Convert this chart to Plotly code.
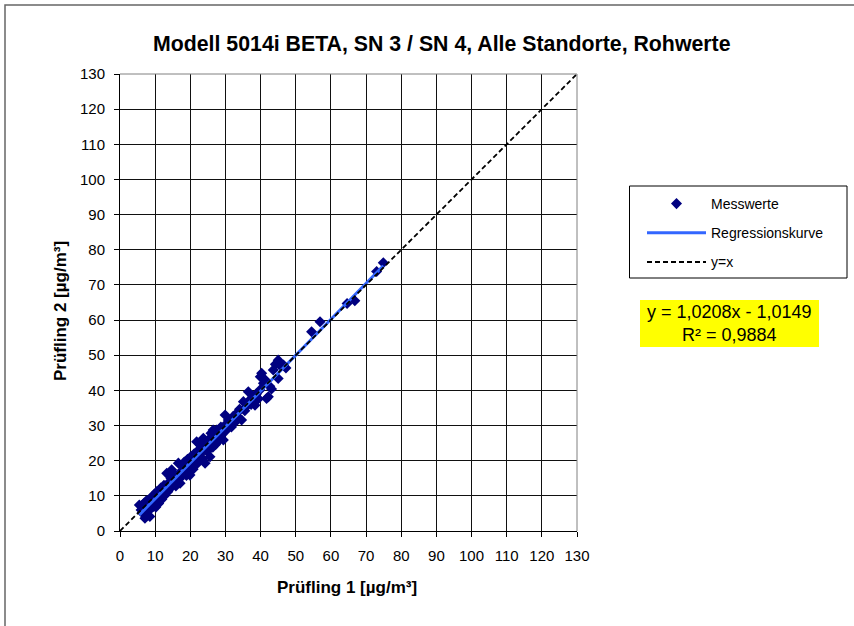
import plotly.graph_objects as go

# ---- data ----
x_vals = [5.5, 6.0, 6.3, 6.8, 7.1, 7.2, 7.5, 7.8, 8.0, 8.3, 8.5, 8.7, 9.0, 9.2, 9.5, 9.8,
          10.0, 10.2, 10.5, 10.8, 11.0, 11.3, 11.6, 11.9, 12.2, 12.5, 12.8, 13.1, 13.3, 13.6,
          13.9, 14.2, 14.5, 14.7, 15.0, 15.3, 15.6, 15.9, 16.2, 16.6, 16.9, 17.1, 17.4, 17.7,
          18.0, 18.3, 18.6, 18.9, 19.2, 19.5, 19.9, 20.2, 20.5, 20.8, 21.1, 21.4, 21.8, 22.0,
          22.3, 22.6, 22.9, 23.2, 23.5, 23.7, 24.0, 24.2, 24.5, 24.8, 25.1, 25.4, 25.6, 25.9,
          26.1, 26.4, 26.5, 26.9, 27.2, 27.5, 27.8, 28.0, 28.4, 28.7, 29.0, 29.4, 29.9, 30.0,
          30.4, 30.8, 31.3, 31.7, 32.2, 32.6, 33.2, 33.6, 34.0, 34.6, 35.1, 35.5, 36.0, 36.5,
          36.8, 37.3, 37.8, 38.4, 38.8, 39.4, 39.8, 39.9, 40.3, 40.8, 41.3, 41.7, 42.2, 42.6,
          43.1, 43.6, 44.2, 45.0, 45.0, 45.6, 46.5, 47.2,
          54.5, 56.9, 64.6, 66.8, 73.0, 74.9]
y_vals = [7.4, 6.0, 5.2, 7.8, 3.6, 6.5, 8.6, 5.5, 7.2, 9.0, 4.1, 6.3, 8.0, 9.8, 7.0, 10.5,
          8.6, 6.8, 11.2, 9.3, 7.8, 10.6, 12.2, 9.0, 11.4, 13.0, 10.2, 12.4, 16.4, 11.2,
          13.8, 12.0, 15.0, 17.4, 13.2, 14.6, 16.0, 12.8, 15.4, 19.3, 14.8, 13.6, 17.0, 18.5,
          16.2, 19.6, 17.4, 15.8, 20.4, 18.2, 15.9, 21.2, 19.0, 17.6, 22.0, 20.2, 25.4, 19.2,
          23.0, 21.4, 24.4, 22.3, 20.5, 26.4, 23.6, 19.3, 25.0, 22.6, 24.5, 26.2, 21.1, 27.8,
          25.9, 23.8, 28.7, 26.6, 24.6, 28.7, 27.0, 25.6, 27.8, 29.6, 27.4, 25.9, 33.0, 30.2,
          28.8, 31.6, 31.1, 29.6, 32.6, 30.8, 33.5, 32.4, 34.6, 31.6, 36.8, 34.2, 35.4, 39.6,
          37.2, 36.0, 38.4, 35.8, 39.0, 37.6, 40.1, 43.9, 44.9, 42.0, 43.0, 37.7, 38.2, 41.2,
          40.4, 45.8, 47.4, 48.6, 43.4, 47.0, 47.2, 46.4,
          56.7, 59.5, 64.7, 65.5, 73.8, 76.3]

reg_slope = 1.0208
reg_intercept = -1.0149
r_squared = "0,9884"

axis_ticks = list(range(0, 131, 10))
identity_range = [0, 130]

title_text = "Modell 5014i BETA, SN 3 / SN 4, Alle Standorte, Rohwerte"
x_title = "Prüfling 1 [µg/m³]"
y_title = "Prüfling 2 [µg/m³]"
eq_text = "y = 1,0208x - 1,0149<br>R² = " + r_squared

# ---- layout geometry (pixels) ----
W, H = 854, 626
L, R, T, B = 120, 277, 74, 95
PW = W - L - R
PH = H - T - B


def px(xp):
    return (xp - L) / PW


def py(yp):
    return (H - B - yp) / PH


FONT = "Arial, Liberation Sans, sans-serif"

reg_x = [min(x_vals), max(x_vals)]
reg_y = [reg_slope * v + reg_intercept for v in reg_x]

fig = go.Figure()
fig.add_trace(go.Scatter(
    x=x_vals, y=y_vals, mode="markers", name="Messwerte",
    marker=dict(symbol="diamond", size=8.5, color="#000080", line=dict(width=0)),
    legendgroup="a"))
fig.add_trace(go.Scatter(
    x=reg_x, y=reg_y, mode="lines", name="Regressionskurve",
    line=dict(color="#3366FF", width=3), legendgroup="b"))
fig.add_trace(go.Scatter(
    x=identity_range, y=identity_range, mode="lines", name="y=x",
    line=dict(color="black", width=1.8, dash="5px,3px"), legendgroup="c"))

axis_common = dict(
    range=[0, 130], tickvals=axis_ticks, ticktext=[str(t) for t in axis_ticks],
    showgrid=True, gridcolor="#111111", gridwidth=1,
    showline=True, linecolor="black", linewidth=1,
    ticks="outside", ticklen=5, tickcolor="black", tickwidth=1,
    zeroline=False, tickfont=dict(family=FONT, size=15, color="black"),
    fixedrange=True,
)

fig.update_layout(
    width=W, height=H,
    margin=dict(l=L, r=R, t=T, b=B, autoexpand=False),
    paper_bgcolor="white", plot_bgcolor="white",
    xaxis=dict(**axis_common, ticklabelstandoff=6),
    yaxis=dict(**axis_common, ticklabelstandoff=6),
    showlegend=True,
    legend=dict(
        x=px(642), y=py(188), xanchor="left", yanchor="top",
        borderwidth=0, bgcolor="rgba(0,0,0,0)",
        font=dict(family=FONT, size=14, color="black"),
        itemwidth=59, tracegroupgap=8, traceorder="grouped",
    ),
    shapes=[
        # plot-area frame (top/right)
        dict(type="path", xref="paper", yref="paper",
             path="M 0,1 L 1,1 L 1,0", line=dict(color="#808080", width=1), layer="above"),
        # outer chart frame (top/left)
        dict(type="path", xref="paper", yref="paper",
             path=f"M {px(5)},{py(640)} L {px(5)},{py(5)} L {px(860)},{py(5)}",
             line=dict(color="#666666", width=1.5)),
        # legend frame
        dict(type="rect", xref="paper", yref="paper",
             x0=px(629.5), x1=px(847), y0=py(278), y1=py(186),
             fillcolor="white", line=dict(color="black", width=1), layer="below"),
        # yellow equation box
        dict(type="rect", xref="paper", yref="paper",
             x0=px(640), x1=px(819), y0=py(347), y1=py(300),
             fillcolor="#FFFF00", line=dict(width=0), layer="below"),
    ],
    annotations=[
        dict(text=f"<b>{title_text}</b>", xref="paper", yref="paper",
             x=px(442), y=py(44), xanchor="center", yanchor="middle", showarrow=False,
             font=dict(family=FONT, size=21.3, color="black")),
        dict(text=f"<b>{x_title}</b>", xref="paper", yref="paper",
             x=px(347), y=py(587), xanchor="center", yanchor="middle", showarrow=False,
             font=dict(family=FONT, size=17, color="black")),
        dict(text=f"<b>{y_title}</b>", xref="paper", yref="paper",
             x=px(60), y=py(311), xanchor="center", yanchor="middle", showarrow=False,
             textangle=-90, font=dict(family=FONT, size=17, color="black")),
        dict(text=eq_text, xref="paper", yref="paper",
             x=px(729.5), y=py(323.5), xanchor="center", yanchor="middle", showarrow=False,
             align="center", font=dict(family=FONT, size=18, color="black")),
    ],
)

fig.write_html("out.html", config={"displayModeBar": False},
               post_script="document.body.style.margin='0';")
